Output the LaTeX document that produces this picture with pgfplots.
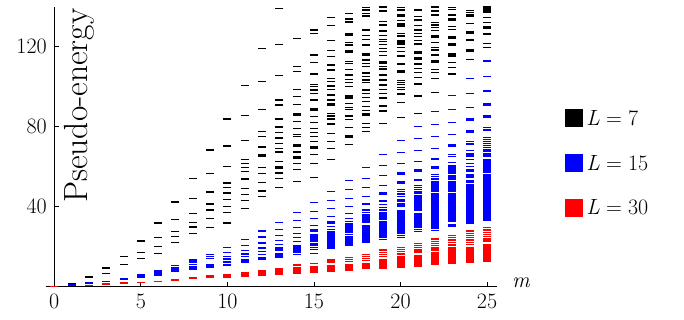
\documentclass[border=0pt]{standalone}
\usepackage{fontspec}
\usepackage{pgfplots}
\usepackage{pgfplotstable}
\pgfplotsset{compat=1.18}
% blocks of closely packed levels: m, lower edge, upper edge
\pgfplotstableread{
m lo hi
14 17.0 20.8
15 22.2 26.5
16 18.9 27.7
17 20.2 25.3
17 26.9 31.7
18 21.7 31.0
18 32.5 36.5
19 24.4 32.8
19 33.4 37.3
20 26.4 36.2
20 36.4 38.6
20 39.7 42.0
20 42.6 44.0
21 29.4 37.0
21 37.7 42.8
21 43.1 46.0
22 28.7 47.0
22 47.2 52.8
23 29.7 31.6
23 32.2 47.0
23 47.2 50.3
23 50.6 52.8
23 53.6 55.8
23 56.4 58.6
23 59.0 60.8
24 31.4 33.3
24 33.4 47.8
24 48.0 51.5
24 51.7 53.6
24 54.4 56.6
24 57.2 59.0
24 64.7 67.0
25 33.9 51.4
25 51.6 56.6
25 56.8 61.1
25 61.4 64.0
25 64.7 66.6
}\blueblocks
\pgfplotstableread{
m lo hi
7 3.0 4.0
8 3.7 4.7
9 4.3 5.7
10 4.5 6.35
11 5.0 7.2
12 5.5 8.35
13 5.85 9.5
14 6.35 9.85
15 7.0 10.35
16 7.5 10.85
17 8.0 11.35
18 8.7 11.7
19 9.0 14.0
20 9.5 15.35
21 10.0 16.0
22 10.85 17.35
23 11.35 19.7
24 11.7 20.0
25 12.5 21.35
}\redblocks
\newcommand{\Leq}[1]{\textit{L}\hspace{0.28em}=\hspace{0.28em}#1}
\begin{document}
\fontsize{22bp}{26bp}\selectfont
\begin{tikzpicture}
\begin{axis}[
  at={(0,0)}, anchor=south west,
  scale only axis, width=451bp, height=280bp,
  xmin=-0.5, xmax=25.55, ymin=0, ymax=140,
  axis lines=middle,
  axis line style={-, line width=0.9bp},
  tick align=inside,
  major tick length=5bp,
  tick style={line width=0.8bp, black},
  xtick={0,5,...,25}, ytick={40,80,120},
  hide obscured x ticks=false,
  /pgf/number format/assume math mode=true,
  ticklabel style={font=\fontsize{22bp}{26bp}\selectfont},
  clip=false,
  legend style={draw=none, fill=none, inner sep=0pt, at={(axis cs:29.49,88.85)}, anchor=north west,
    row sep=25.5bp, nodes={inner xsep=4bp, inner ysep=0pt}, legend cell align=left,
    font=\fontsize{22bp}{26bp}\selectfont},
]
% L = 7
\addplot[forget plot, only marks, mark=-, mark size=4bp, mark options={line width=1.5bp, draw=black}] coordinates {
(0,0) (1,1.7) (2,4.85) (3,6.7) (3,9.3) (4,11.2) (4,15.2)
(5,14.2) (5,17.2) (5,22.8)
(6,16.7) (6,20.0) (6,24.7) (6,31.9)
(7,22.2) (7,25.0) (7,27.7) (7,33.7) (7,42.3)
(8,26.7) (8,29.8) (8,32.2) (8,36.7) (8,44.2) (8,54.2)
(9,29.7) (9,34.2) (9,38.0) (9,38.7) (9,41.3) (9,47.3) (9,56.7) (9,68.3)
(10,31.9) (10,37.0) (10,40.1) (10,43.6) (10,46.8) (10,49.7) (10,51.9) (10,60.0) (10,70.3) (10,83.8)
(11,39.2) (11,43.2) (11,46.2) (11,49.2) (11,53.5) (11,54.2) (11,57.5) (11,59.5) (11,61.7) (11,63.7) (11,73.2) (11,85.7) (11,100.7)
(12,45.2) (12,47.5) (12,48.2) (12,52.2) (12,56.7) (12,59.7) (12,65.3) (12,66.2) (12,69.9) (12,75.2) (12,77.7) (12,88.7) (12,102.7) (12,119.2)
(13,49.7) (13,54.2) (13,56.8) (13,59.2) (13,59.9) (13,62.7) (13,67.3) (13,69.2) (13,71.7) (13,74.3) (13,77.2) (13,79.8) (13,83.8) (13,90.8) (13,93.3) (13,105.7) (13,121.2) (13,139.2)
(14,52.7) (14,58.7) (14,61.7) (14,64.2) (14,64.9) (14,67.3) (14,70.0) (14,70.8) (14,75.0) (14,76.0) (14,79.2) (14,82.7) (14,85.7) (14,86.4) (14,91.2) (14,95.2) (14,98.7) (14,107.7) (14,110.2) (14,124.2)
(15,54.7) (15,61.7) (15,66.2) (15,69.4) (15,70.0) (15,72.5) (15,75.0) (15,77.2) (15,79.2) (15,82.2) (15,85.0) (15,88.2) (15,88.9) (15,93.3) (15,96.5) (15,98.3) (15,100.0) (15,101.0) (15,106.3) (15,112.2) (15,115.8) (15,126.7) (15,128.3)
(16,63.7) (16,69.2) (16,72.5) (16,76.7) (16,81.0) (16,81.7) (16,83.5) (16,84.2) (16,85.3) (16,86.7) (16,90.9) (16,91.6) (16,93.3) (16,95.8) (16,98.7) (16,100.3) (16,102.5) (16,104.0) (16,108.3) (16,110.8) (16,115.0) (16,118.0) (16,123.2) (16,130.7) (16,134.7)
(17,71.2) (17,74.7) (17,75.4) (17,79.7) (17,83.7) (17,85.3) (17,88.7) (17,89.7) (17,91.7) (17,94.3) (17,95.0) (17,95.7) (17,100.0) (17,102.0) (17,103.7) (17,105.8) (17,108.7) (17,111.7) (17,112.5) (17,117.2) (17,117.9) (17,120.8) (17,122.2) (17,125.7) (17,126.4) (17,132.3) (17,133.8) (17,136.7)
(18,77.5) (18,79.5) (18,81.7) (18,85.8) (18,86.5) (18,88.0) (18,90.0) (18,92.5) (18,94.7) (18,96.7) (18,98.3) (18,102.0) (18,103.3) (18,105.0) (18,106.5) (18,107.2) (18,110.0) (18,111.7) (18,113.3) (18,115.9) (18,116.6) (18,120.8) (18,123.7) (18,125.5) (18,128.0) (18,128.7) (18,135.3) (18,136.7) (18,138.3) (18,139.7)
(19,81.7) (19,87.8) (19,90.0) (19,90.7) (19,94.0) (19,94.7) (19,96.7) (19,98.7) (19,100.5) (19,101.2) (19,103.3) (19,105.8) (19,108.5) (19,109.2) (19,110.0) (19,111.7) (19,112.4) (19,115.7) (19,117.5) (19,119.2) (19,121.2) (19,122.5) (19,123.7) (19,125.5) (19,127.5) (19,128.2) (19,130.8) (19,132.5) (19,137.8) (19,139.8)
(20,84.7) (20,92.0) (20,96.3) (20,98.7) (20,99.7) (20,101.0) (20,102.0) (20,103.0) (20,107.0) (20,107.8) (20,111.0) (20,111.7) (20,115.3) (20,117.5) (20,119.5) (20,121.3) (20,122.2) (20,122.9) (20,125.3) (20,126.7) (20,130.2) (20,130.9) (20,131.7) (20,133.0) (20,135.2) (20,135.9) (20,138.3) (20,139.7)
(21,86.7) (21,95.3) (21,101.3) (21,104.5) (21,107.0) (21,109.2) (21,111.3) (21,113.9) (21,114.6) (21,116.7) (21,117.4) (21,121.3) (21,123.0) (21,125.0) (21,126.7) (21,128.0) (21,128.7) (21,130.5) (21,133.0) (21,133.7) (21,135.0) (21,138.0) (21,138.7)
(22,97.2) (22,104.2) (22,107.0) (22,108.7) (22,112.0) (22,112.8) (22,115.8) (22,118.0) (22,118.7) (22,119.7) (22,122.0) (22,124.7) (22,125.4) (22,128.0) (22,129.7) (22,130.8) (22,132.2) (22,135.5) (22,136.2) (22,137.8) (22,139.8)
(23,106.3) (23,109.7) (23,112.0) (23,115.3) (23,116.3) (23,120.9) (23,121.6) (23,124.2) (23,124.9) (23,128.7) (23,130.0) (23,133.3) (23,134.0) (23,135.8) (23,138.7) (23,139.7)
(24,113.7) (24,117.8) (24,118.7) (24,123.0) (24,123.7) (24,126.7) (24,127.4) (24,131.7) (24,135.0) (24,135.8) (24,137.0) (24,138.0)
(25,119.7) (25,121.7) (25,126.3) (25,129.2) (25,129.9) (25,132.2) (25,134.7) (25,137.2) (25,137.9) (25,138.8) (25,139.8)
};
% L = 15
\addplot[forget plot, draw=none, mark=none, error bars/.cd, y dir=both, y explicit, error mark=none,
  error bar style={draw=blue, line width=8bp}]
  table[x=m, y expr={(\thisrow{lo}+\thisrow{hi})/2}, y error expr={(\thisrow{hi}-\thisrow{lo})/2}] {\blueblocks};
\addplot[forget plot, only marks, mark=-, mark size=4bp, mark options={line width=1.5bp, draw=blue}] coordinates {
(0,0) (1,0.8) (2,1.8) (3,2.7) (4,3.5) (4,4.1)
(5,4.7) (5,5.35) (5,6.2)
(6,5.85) (6,6.5) (6,7.35) (6,8.2)
(7,7.6) (7,8.2) (7,8.8) (7,9.7) (7,10.5)
(8,8.8) (8,9.8) (8,11.0) (8,12.35) (8,13.35)
(9,9.9) (9,10.5) (9,11.2) (9,14.0) (9,15.2) (9,16.2)
(10,10.5) (10,11.2) (10,12.0) (10,12.7) (10,13.85) (10,15.2) (10,17.2) (10,19.7)
(11,12.1) (11,12.9) (11,13.7) (11,15.0) (11,16.35) (11,18.2) (11,20.7) (11,23.7)
(12,13.7) (12,14.35) (12,16.0) (12,17.7) (12,19.0) (12,19.7) (12,21.85) (12,24.85) (12,27.85)
(13,14.7) (13,15.35) (13,16.0) (13,16.7) (13,18.0) (13,18.6) (13,19.2) (13,19.7) (13,21.0) (13,23.2) (13,25.7) (13,28.7) (13,32.2)
(14,16.2) (14,22.5) (14,24.5) (14,26.7) (14,29.7) (14,33.2) (14,37.2)
(15,16.7) (15,18.7) (15,19.7) (15,20.8) (15,21.7) (15,27.7) (15,28.3) (15,30.5) (15,34.2) (15,37.7) (15,42.2)
(16,28.7) (16,30.0) (16,31.9) (16,32.5) (16,35.0) (16,39.2) (16,43.2) (16,47.5)
(17,26.2) (17,32.7) (17,34.0) (17,36.7) (17,40.0) (17,44.2) (17,48.7) (17,53.2)
(18,32.0) (18,37.2) (18,38.35) (18,41.35) (18,45.0) (18,49.7) (18,54.2) (18,59.7)
(19,23.7) (19,38.35) (19,39.7) (19,41.0) (19,42.5) (19,43.2) (19,46.2) (19,46.9) (19,50.7) (19,55.7) (19,60.7) (19,66.2)
(20,24.7) (20,25.7) (20,45.0) (20,46.35) (20,47.5) (20,48.7) (20,51.7) (20,52.3) (20,56.2) (20,56.9) (20,61.7) (20,67.2) (20,73.2)
(21,27.7) (21,28.7) (21,46.9) (21,47.7) (21,48.7) (21,49.7) (21,50.7) (21,53.35) (21,57.7) (21,58.3) (21,62.7) (21,68.2) (21,74.2) (21,80.2)
(22,28.0) (22,53.5) (22,54.2) (22,55.0) (22,56.2) (22,59.2) (22,59.9) (22,63.5) (22,64.2) (22,69.2) (22,75.2) (22,81.2) (22,87.7)
(23,62.2) (23,65.0) (23,66.2) (23,70.2) (23,70.9) (23,76.2) (23,82.2) (23,88.7) (23,95.7)
(24,60.0) (24,61.7) (24,63.7) (24,68.0) (24,71.35) (24,72.5) (24,77.2) (24,77.9) (24,83.4) (24,84.1) (24,89.7) (24,96.7) (24,104.2)
(25,33.35) (25,67.7) (25,68.4) (25,69.5) (25,70.5) (25,71.7) (25,72.5) (25,73.7) (25,74.7) (25,78.0) (25,78.7) (25,79.5) (25,84.7) (25,85.4) (25,90.7) (25,91.4) (25,97.85) (25,105.2) (25,112.85)
};
% L = 30
\addplot[forget plot, draw=none, mark=none, error bars/.cd, y dir=both, y explicit, error mark=none,
  error bar style={draw=red, line width=8bp}]
  table[x=m, y expr={(\thisrow{lo}+\thisrow{hi})/2}, y error expr={(\thisrow{hi}-\thisrow{lo})/2}] {\redblocks};
\addplot[forget plot, only marks, mark=-, mark size=4bp, mark options={line width=1.5bp, draw=red}] coordinates {
(0,0) (2,0.7) (3,1.3) (4,1.8) (5,2.2) (6,2.7)
(14,10.85) (15,11.7) (16,12.35) (16,13.35)
(17,12.7) (17,13.7) (17,14.7)
(18,13.0) (18,14.0) (18,15.0) (18,16.0)
(19,15.0) (19,16.0) (19,17.2) (19,18.35)
(20,16.35) (20,17.5) (20,18.7) (20,19.7)
(21,17.35) (21,18.35) (21,19.7) (21,20.7) (21,21.7)
(22,18.35) (22,19.35) (22,20.5) (22,21.7) (22,22.7) (22,23.85)
(23,20.85) (23,22.2) (23,23.35) (23,24.5) (23,25.5)
(24,21.2) (24,22.2) (24,23.35) (24,24.5) (24,25.5) (24,26.7) (24,27.85)
(25,22.85) (25,23.85) (25,25.0) (25,26.2) (25,27.2) (25,28.35) (25,29.5)
};
\addlegendimage{legend image code/.code={\fill[black] (0bp,-7bp) rectangle (17bp,10bp);}}
\addlegendentry{\Leq{7}}
\addlegendimage{legend image code/.code={\fill[blue] (0bp,-7bp) rectangle (17bp,10bp);}}
\addlegendentry{\Leq{15}}
\addlegendimage{legend image code/.code={\fill[red] (0bp,-7bp) rectangle (17bp,10bp);}}
\addlegendentry{\Leq{30}}
\node[rotate=90, anchor=base west, inner sep=0pt, font=\fontsize{33.5bp}{36bp}\selectfont] at (axis cs:1.94,41.85) {Pseudo-energy};
\node[anchor=base west, inner sep=0pt, font=\fontsize{22bp}{26bp}\selectfont] at (axis cs:26.44,-0.15) {\textit{m}};
\end{axis}
\pgfresetboundingbox
\useasboundingbox (-45.6bp,-33.3bp) rectangle (638.4bp,286.7bp);
\end{tikzpicture}
\end{document}
